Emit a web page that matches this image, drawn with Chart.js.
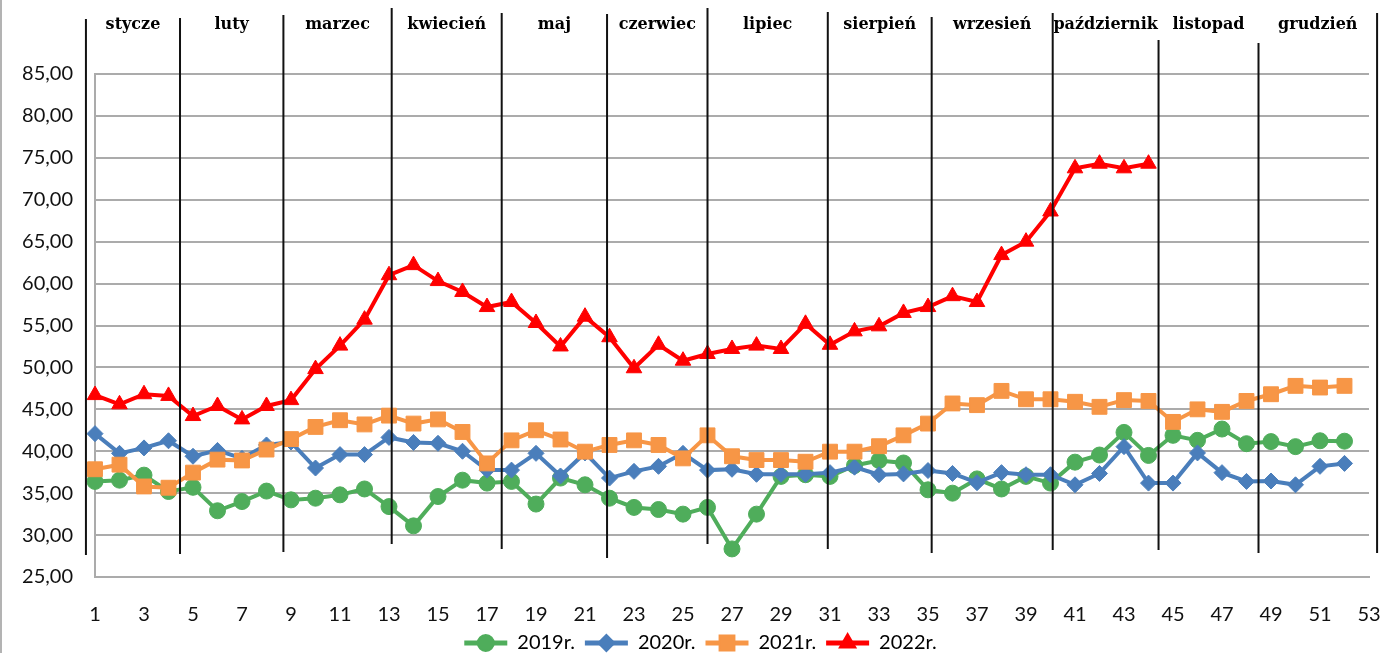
<!DOCTYPE html>
<html lang="pl">
<head>
<meta charset="utf-8">
<title>Ceny tygodniowe 2019-2022</title>
<script src="https://cdn.jsdelivr.net/npm/chart.js@4.4.1/dist/chart.umd.min.js"></script>
<style>
  html, body { margin: 0; padding: 0; background: #fff; }
  #wrap { position: relative; width: 1381px; height: 653px; }
</style>
</head>
<body>
<div id="wrap"><canvas id="chart"></canvas></div>
<script>
// tygodnie roku (oś X)
const weeks = ['1','2','3','4','5','6','7','8','9','10','11','12','13','14','15','16','17','18','19','20',
  '21','22','23','24','25','26','27','28','29','30','31','32','33','34','35','36','37','38','39','40',
  '41','42','43','44','45','46','47','48','49','50','51','52','53'];

const months = ['stycze', 'luty', 'marzec', 'kwiecień', 'maj', 'czerwiec', 'lipiec',
  'sierpień', 'wrzesień', 'październik', 'listopad', 'grudzień'];

const yTicks = [25, 30, 35, 40, 45, 50, 55, 60, 65, 70, 75, 80, 85];

const y2019 = [36.4, 36.55, 37.15, 35.2, 35.7, 32.9, 34.0, 35.25, 34.2, 34.4,
  34.8, 35.5, 33.4, 31.1, 34.6, 36.55, 36.2, 36.4, 33.7, 36.8,
  36.0, 34.4, 33.3, 33.05, 32.5, 33.3, 28.35, 32.5, 37.0, 37.2,
  37.0, 38.3, 38.9, 38.6, 35.4, 35.0, 36.7, 35.5, 37.0, 36.2,
  38.7, 39.55, 42.25, 39.5, 41.9, 41.3, 42.65, 40.9, 41.15, 40.55,
  41.25, 41.2];

const y2020 = [42.1, 39.75, 40.4, 41.25, 39.4, 40.1, 39.15, 40.75, 41.1, 38.0,
  39.6, 39.6, 41.65, 41.05, 40.95, 40.0, 37.75, 37.75, 39.75, 37.05,
  39.8, 36.8, 37.6, 38.2, 39.75, 37.75, 37.85, 37.25, 37.25, 37.25,
  37.45, 38.1, 37.2, 37.3, 37.7, 37.35, 36.25, 37.45, 37.2, 37.2,
  36.0, 37.35, 40.55, 36.2, 36.2, 39.8, 37.45, 36.4, 36.45, 36.0,
  38.2, 38.55];

const y2021 = [37.85, 38.4, 35.8, 35.65, 37.45, 39.0, 38.9, 40.2, 41.45, 42.9,
  43.7, 43.2, 44.25, 43.3, 43.8, 42.3, 38.55, 41.3, 42.5, 41.4,
  39.95, 40.75, 41.3, 40.75, 39.15, 41.9, 39.4, 38.95, 38.95, 38.75,
  39.95, 39.95, 40.6, 41.9, 43.3, 45.7, 45.5, 47.2, 46.2, 46.2,
  45.9, 45.3, 46.1, 46.0, 43.5, 45.0, 44.7, 46.0, 46.8, 47.8,
  47.6, 47.8];

const y2022 = [46.7, 45.6, 46.8, 46.6, 44.2, 45.4, 43.8, 45.4, 46.1, 49.8,
  52.6, 55.7, 61.0, 62.2, 60.3, 59.0, 57.2, 57.8, 55.3, 52.5,
  56.05, 53.6, 49.9, 52.7, 50.8, 51.6, 52.2, 52.6, 52.2, 55.2,
  52.7, 54.3, 54.9, 56.5, 57.2, 58.5, 57.8, 63.4, 65.0, 68.6,
  73.75, 74.3, 73.75, 74.3];

// kreski miesięcy dorysowane na wykresie (pozycja w tygodniach, góra/dół w px)
const monthBounds = [0.63, 4.47, 8.69, 13.11, 17.6, 21.9, 26.0, 30.91, 35.15, 40.09, 44.41, 48.49, 53.33];
const boundTops = [19, 18, 15, 8, 13, 14, 8, 12, 17, 13, 40, 43, 13];
const boundBottoms = [555, 554, 552, 544, 549, 558, 544, 549, 553, 550, 550, 553, 553];

const fmt = v => v.toFixed(2).replace('.', ',');
const gridColor = '#ababab';
const legendFont = 20;
const legendBox = 43;

const series = (label, data, color, style, radius, order) => ({
    label, data, order,
    borderColor: color,
    backgroundColor: color,
    borderWidth: 4,
    tension: 0,
    pointStyle: style,
    pointRadius: radius,
    pointHoverRadius: radius,
    pointBackgroundColor: color,
    pointBorderColor: color,
    pointBorderWidth: 1
});

const overlay = {
    id: 'overlay',
    afterDraw(chart) {
        const { ctx, scales: { x } } = chart;
        ctx.save();

        // lewa krawędź ramki
        ctx.fillStyle = '#b3b3b3';
        ctx.fillRect(0, 0, 2, chart.height);

        // separatory miesięcy
        const px = monthBounds.map(w => x.getPixelForValue(w - 1));
        ctx.strokeStyle = '#111';
        ctx.lineWidth = 2;
        px.forEach((p, i) => {
            ctx.beginPath();
            ctx.moveTo(p, boundTops[i]);
            ctx.lineTo(p, boundBottoms[i]);
            ctx.stroke();
        });

        ctx.font = 'bold 16px "DejaVu Serif"';
        ctx.textAlign = 'center';
        ctx.textBaseline = 'alphabetic';
        ctx.fillStyle = '#000';
        months.forEach((m, i) => ctx.fillText(m, (px[i] + px[i + 1]) / 2, 29));

        // znaczniki w legendzie (linia + punkt)
        const legend = chart.legend;
        legend.legendHitBoxes.forEach((hb, i) => {
            const ds = chart.data.datasets[legend.legendItems[i].datasetIndex];
            ctx.fillStyle = ds.pointBackgroundColor;
            ctx.strokeStyle = ds.pointBorderColor;
            Chart.helpers.drawPoint(ctx, {
                pointStyle: ds.pointStyle, radius: ds.pointRadius, rotation: 0, borderWidth: 1
            }, hb.left + legendBox / 2, hb.top + legendFont / 2);
        });
        ctx.restore();
    }
};

new Chart(document.getElementById('chart'), {
    type: 'line',
    data: {
        labels: weeks,
        datasets: [
            series('2019r.', y2019, '#4fad5b', 'circle', 8, 4),
            series('2020r.', y2020, '#4a7ebb', 'rectRot', 8, 3),
            series('2021r.', y2021, '#f79646', 'rect', 10.5, 2),
            series('2022r.', y2022, '#ff0000', 'triangle', 9, 1)
        ]
    },
    options: {
        responsive: true,
        maintainAspectRatio: false,
        animation: false,
        layout: { padding: { left: 20, right: 0, top: 74, bottom: -10 } },
        plugins: {
            tooltip: { enabled: false },
            legend: {
                position: 'bottom',
                labels: {
                    font: { family: 'Lato', size: legendFont },
                    color: '#000',
                    boxWidth: legendBox,
                    boxHeight: 5,
                    padding: 10,
                    sort: (a, b) => a.datasetIndex - b.datasetIndex,
                    generateLabels: chart => Chart.defaults.plugins.legend.labels.generateLabels(chart)
                        .map(l => ({ ...l, lineWidth: 0 }))
                }
            }
        },
        scales: {
            x: {
                grid: { display: false },
                border: { display: true, color: gridColor, width: 2 },
                afterFit: s => {
                    s.height = 46;
                    s.paddingRight = 12; // bez dodatkowego odstępu od ticks.padding
                },
                ticks: {
                    autoSkip: false,
                    maxRotation: 0,
                    minRotation: 0,
                    padding: 18,
                    color: '#111',
                    font: { family: 'Lato', size: 20 },
                    callback: (v, i) => (i % 2 === 0 ? weeks[i] : '')
                }
            },
            y: {
                min: yTicks[0],
                max: yTicks[yTicks.length - 1],
                afterFit: s => { s.width = 75; },
                afterBuildTicks: s => { s.ticks = yTicks.map(v => ({ value: v })); },
                grid: { color: gridColor, lineWidth: 2, drawTicks: false },
                border: { display: true, color: gridColor, width: 2 },
                ticks: {
                    padding: 22,
                    color: '#111',
                    font: { family: 'Lato', size: 20 },
                    callback: v => fmt(v)
                }
            }
        }
    },
    plugins: [overlay]
});
</script>
</body>
</html>
